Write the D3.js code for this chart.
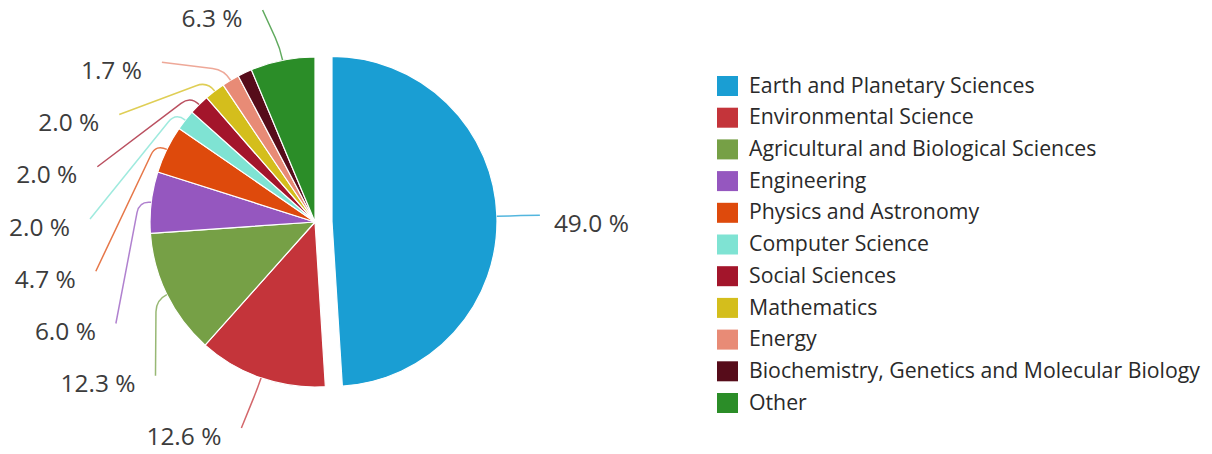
<!DOCTYPE html>
<html>
<head>
<meta charset="utf-8">
<script src="https://cdn.jsdelivr.net/npm/d3@7"></script>
<style>
  html, body { margin: 0; padding: 0; background: #ffffff; }
  svg { display: block; }
</style>
</head>
<body>
<svg id="chart" width="1212" height="454"></svg>
<script>
// ---- data ----
const categories = [
  "Earth and Planetary Sciences",
  "Environmental Science",
  "Agricultural and Biological Sciences",
  "Engineering",
  "Physics and Astronomy",
  "Computer Science",
  "Social Sciences",
  "Mathematics",
  "Energy",
  "Biochemistry, Genetics and Molecular Biology",
  "Other"
];
const values = [49.0, 12.6, 12.3, 6.0, 4.7, 2.0, 2.0, 2.0, 1.7, 1.4, 6.3];
const colors = [
  "#1a9ed3", "#c4343a", "#76a046", "#9557bf", "#de4a0c", "#7fe3d3",
  "#a3152b", "#d4be1c", "#e88b76", "#560c1a", "#2b8d28"
];
const showLabel = [true, true, true, true, true, true, true, true, true, false, true];
const explodedIndex = 0;

// ---- layout ----
const W = 1212, H = 454;
const cx = 315, cy = 222, R = 165;
const explode = 17;
const labelRX = 225, labelRY = 218;
const labelFont = "'Open Sans', 'DejaVu Sans', sans-serif";

const svg = d3.select("#chart");
const pie = d3.pie().sort(null).value(d => d)(values);
const arc = d3.arc().innerRadius(0).outerRadius(R);

const pt = (a, r, ox = 0, oy = 0) => [cx + ox + r * Math.sin(a), cy + oy - r * Math.cos(a)];

const slices = pie.map((p, i) => {
  const mid = (p.startAngle + p.endAngle) / 2;
  const off = i === explodedIndex ? explode : 0;
  const ox = off * Math.sin(mid), oy = -off * Math.cos(mid);
  return { p, i, mid, ox, oy };
});

const g = svg.append("g");
g.selectAll("path.slice")
  .data(slices)
  .join("path")
  .attr("class", "slice")
  .attr("d", d => arc(d.p))
  .attr("transform", d => `translate(${cx + d.ox},${cy + d.oy})`)
  .attr("fill", d => colors[d.i])
  .attr("stroke", "#ffffff")
  .attr("stroke-width", 1.2)
  .attr("stroke-linejoin", "round");

// ---- labels ----
const leftSlices = slices.filter(d => showLabel[d.i] && d.mid > Math.PI)
  .sort((a, b) => b.mid - a.mid);
const rightSlices = slices.filter(d => showLabel[d.i] && d.mid <= Math.PI);

const ellX = dy => labelRX * Math.sqrt(Math.max(0, 1 - (dy / labelRY) ** 2));
const topY = cy - 212, botY = cy + 206;
const step = (botY - topY) / (leftSlices.length - 1);
leftSlices.forEach((d, k) => {
  d.ay = topY + k * step;
  d.ax = cx - ellX(d.ay - cy);
  d.side = -1;
});
rightSlices.forEach(d => {
  d.ay = cy - labelRY * Math.cos(d.mid);
  d.ax = cx + ellX(d.ay - cy);
  d.side = 1;
});
const labelled = leftSlices.concat(rightSlices);

function connector(d) {
  const end = pt(d.mid, R, d.ox, d.oy);
  const elbow = pt(d.mid, R + 12, d.ox, d.oy);
  const s = [d.ax, d.ay];
  const vx = s[0] - elbow[0], vy = s[1] - elbow[1];
  const len = Math.hypot(vx, vy) || 1;
  const k = Math.min(12, len * 0.4);
  const a = [elbow[0] + vx / len * k, elbow[1] + vy / len * k];
  return `M${s[0]},${s[1]}L${a[0]},${a[1]}Q${elbow[0]},${elbow[1]} ${end[0]},${end[1]}`;
}

g.selectAll("path.conn")
  .data(labelled)
  .join("path")
  .attr("class", "conn")
  .attr("d", connector)
  .attr("fill", "none")
  .attr("stroke", d => colors[d.i])
  .attr("stroke-opacity", 0.75)
  .attr("stroke-width", 1.5);

const lblTexts = g.selectAll("text.lbl")
  .data(labelled)
  .join("text")
  .attr("class", "lbl")
  .attr("x", d => d.ax + (d.side < 0 ? -20 : 14))
  .attr("y", d => d.ay + 10)
  .attr("text-anchor", d => d.side < 0 ? "end" : "start")
  .attr("dominant-baseline", "middle")
  .attr("font-family", labelFont)
  .attr("font-size", 20)
  .attr("fill", "#3c3c3c")
  .text(d => values[d.i].toFixed(1) + " %");
// fit "49.0 %" to the reference width (~75px)
const ref = lblTexts.filter(d => d.i === explodedIndex).node();
if (ref) {
  const w = ref.getComputedTextLength();
  if (w > 0) lblTexts.attr("font-size", 20 * 75 / w);
}

// ---- legend ----
const lgX = 717, lgY = 86, lgStep = 31.7;
const legend = svg.append("g");
const rows = legend.selectAll("g.row")
  .data(categories)
  .join("g")
  .attr("class", "row")
  .attr("transform", (d, i) => `translate(${lgX},${lgY + i * lgStep})`);
rows.append("rect")
  .attr("x", 0).attr("y", -10)
  .attr("width", 21).attr("height", 20)
  .attr("fill", (d, i) => colors[i]);
const texts = rows.append("text")
  .attr("x", 32).attr("y", 1)
  .attr("dominant-baseline", "middle")
  .attr("font-family", labelFont)
  .attr("font-size", 19)
  .attr("fill", "#2a2a2a")
  .text(d => d);
let maxW = 0;
texts.each(function () { maxW = Math.max(maxW, this.getComputedTextLength()); });
if (maxW > 0) texts.attr("font-size", 19 * 451 / maxW);
</script>
</body>
</html>
